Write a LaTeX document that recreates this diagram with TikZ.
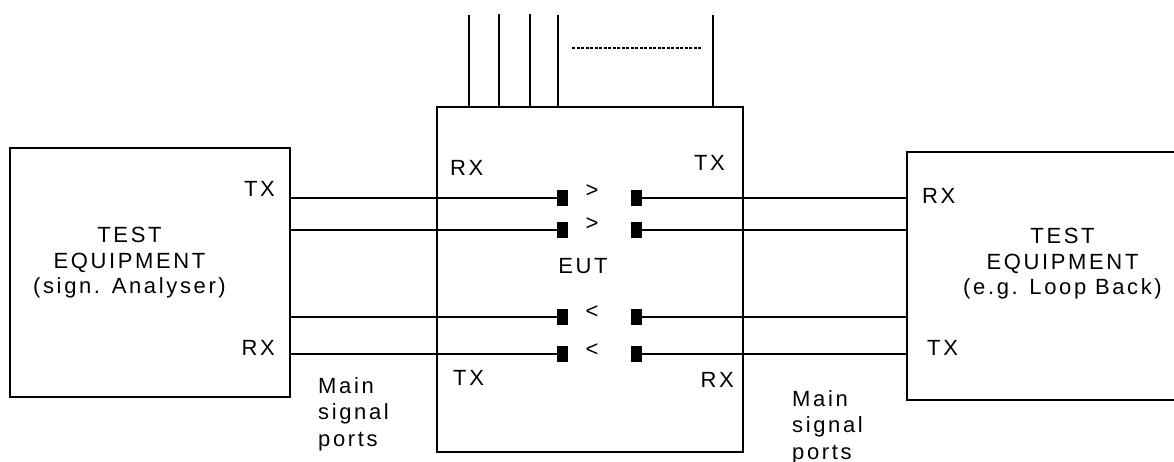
\documentclass[tikz,border=0pt]{standalone}
\usepackage{fontspec}
\setmainfont{Liberation Sans}[LetterSpace=12]
\begin{document}
\begin{tikzpicture}[x=1pt,y=-1pt,
  box/.style={draw, line width=2.5pt, inner sep=0pt},
  wire/.style={line width=2.5pt},
  conn/.style={fill=black, minimum width=11pt, minimum height=16pt, inner sep=0pt, draw=none},
  lbl/.style={inner sep=0pt, font=\fontsize{22}{25.5}\selectfont},
  mlbl/.style={inner sep=0pt, align=left, anchor=north west, font=\fontsize{22}{26.5}\selectfont},
  ]
\useasboundingbox (0,0) rectangle (1174,462);
% boxes
\node[box, minimum width=280pt, minimum height=249pt] (lte) at (150,272.5) {};
\node[box, minimum width=306pt, minimum height=345pt] (eut) at (590,279.5) {};
\node[inner sep=0pt, minimum width=267pt, minimum height=248pt] (rte) at (1040.5,276) {};
\draw[wire] (rte.north east) -- (rte.north west) -- (rte.south west) -- (rte.south east);
% box texts
\node[lbl, align=center, anchor=north] (ltxt) at (129.5,227) {TEST\\EQUIPMENT\\(sign. Analyser)};
\node[lbl, align=center, anchor=north] (rtxt) at (1062.5,228) {TEST\\EQUIPMENT\\(e.g. Loop Back)};
\node[lbl, anchor=base] (euttxt) at (583,273) {EUT};
% connectors
\foreach \i/\y in {1/198,2/230,3/317,4/354}{
  \node[conn] (l\i) at (562.5,\y) {};
  \node[conn] (r\i) at (636,\y) {};
  \draw[wire] (lte.east |- l\i) -- (l\i.west);
  \draw[wire] (r\i.east) -- (rte.west |- r\i);
}
\node[lbl] (a1) at (592,191) {>};
\node[lbl] (a2) at (592,224) {>};
\node[lbl] (a3) at (592,312) {<};
\node[lbl] (a4) at (592,350) {<};
% top lines
\foreach \i/\x/\y in {1/469/15,2/499/14,3/530/14,4/558/15,5/713/15}{
  \coordinate (t\i) at (\x,\y);
  \draw[wire] (t\i) -- (t\i |- eut.north);
}
\coordinate (d1) at (572,48);
\coordinate (d2) at (702,48);
\draw[line width=2.5pt, dash pattern=on 3pt off 1.5pt] (d1) -- (d2);
% port labels
\node[lbl, anchor=base east] (ltx) at (275,197) {TX};
\node[lbl, anchor=base east] (lrx) at (275,355) {RX};
\node[lbl, anchor=base west] (erx1) at (450,176) {RX};
\node[lbl, anchor=base east] (etx1) at (725,171) {TX};
\node[lbl, anchor=base west] (etx2) at (453,385) {TX};
\node[lbl, anchor=base east] (erx2) at (734,387) {RX};
\node[lbl, anchor=base west] (rrx) at (922,204) {RX};
\node[lbl, anchor=base west] (rtx) at (927,355) {TX};
\node[mlbl] (msp1) at (318,377) {Main\\signal\\ports};
\node[mlbl] (msp2) at (792,390) {Main\\signal\\ports};
\end{tikzpicture}
\end{document}
